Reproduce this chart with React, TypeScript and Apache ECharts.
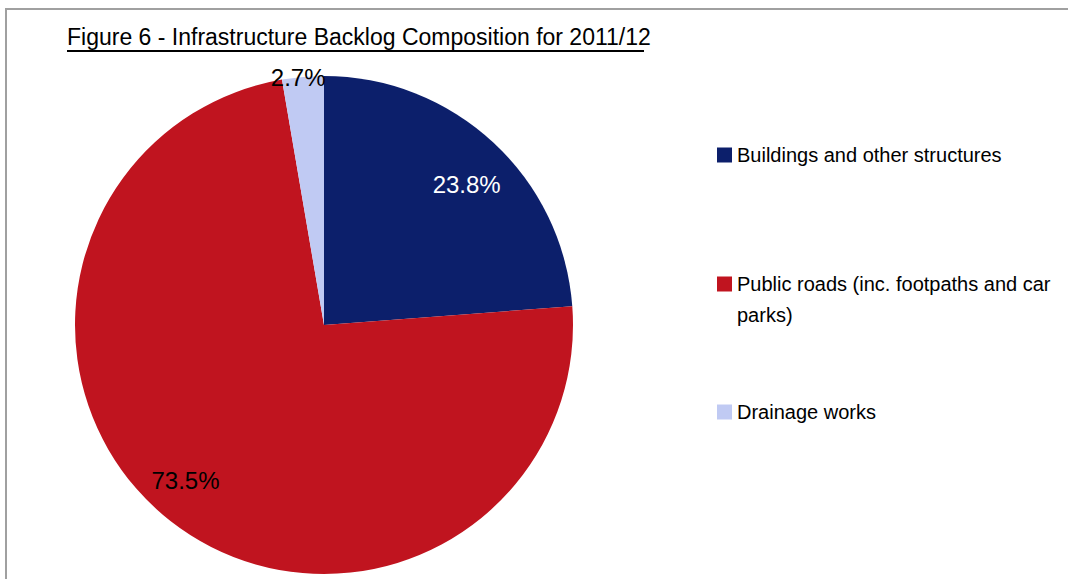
import React, { useEffect, useRef } from "react";
import * as echarts from "echarts";

const titleText = "Figure 6 - Infrastructure Backlog Composition for 2011/12";
const categories = [
  "Buildings and other structures",
  "Public roads (inc. footpaths and car parks)",
  "Drainage works",
];
const legendLabels = [
  "Buildings and other structures",
  "\nPublic roads (inc. footpaths and car\nparks)",
  "Drainage works",
];
const values = [23.8, 73.5, 2.7];
const colors = ["#0c1f6b", "#c0141f", "#c0caf3"];
const labelColors = ["#ffffff", "#000000", "#000000"];
const labelOffsets: [number, number][] = [
  [56, -47],
  [-60, 55],
  [-15, -120],
];

const FONT = "'Liberation Sans', Arial, sans-serif";

export default function App() {
  const ref = useRef<HTMLDivElement>(null);
  useEffect(() => {
    if (!ref.current) return;
    const chart = echarts.init(ref.current, undefined, { renderer: "svg" });
    const legendTops = [139.5, 237.5, 396.5];
    const legends = categories.map((c, i) => ({
      data: [c],
      orient: "vertical",
      left: 717,
      top: legendTops[i],
      padding: 0,
      itemWidth: 15,
      itemHeight: 15,
      icon: "rect",
      selectedMode: false,
      formatter: () => legendLabels[i],
      textStyle: {
        fontFamily: FONT,
        fontSize: 20,
        color: "#000",
        lineHeight: 31,
      },
    }));
    chart.setOption({
      animation: false,
      backgroundColor: "#ffffff",
      title: {
        text: titleText,
        left: 67,
        top: 25,
        padding: 0,
        textStyle: {
          fontFamily: FONT,
          fontSize: 23,
          fontWeight: "normal",
          color: "#000",
        },
      },
      graphic: [
        {
          type: "rect",
          shape: { x: 6, y: 9, width: 1200, height: 700 },
          style: { fill: "none", stroke: "#a0a0a0", lineWidth: 2 },
          silent: true,
        },
        {
          type: "line",
          shape: { x1: 67, y1: 51, x2: 644, y2: 51 },
          style: { stroke: "#000", lineWidth: 2 },
          silent: true,
        },
      ],
      legend: legends,
      series: [
        {
          type: "pie",
          center: [324, 325],
          radius: 249,
          startAngle: 90,
          clockwise: true,
          avoidLabelOverlap: false,
          label: {
            show: true,
            position: "inside",
            fontFamily: FONT,
            fontSize: 24,
            formatter: (p: any) => p.value.toFixed(1) + "%",
          },
          labelLine: { show: false },
          emphasis: { disabled: true },
          itemStyle: { borderWidth: 0 },
          data: categories.map((c, i) => ({
            name: c,
            value: values[i],
            itemStyle: { color: colors[i] },
            label: { color: labelColors[i], offset: labelOffsets[i] },
          })),
        },
      ],
    });
    return () => chart.dispose();
  }, []);
  return (
    <div
      ref={ref}
      style={{ position: "fixed", left: 0, top: 0, width: 1068, height: 579 }}
    />
  );
}
